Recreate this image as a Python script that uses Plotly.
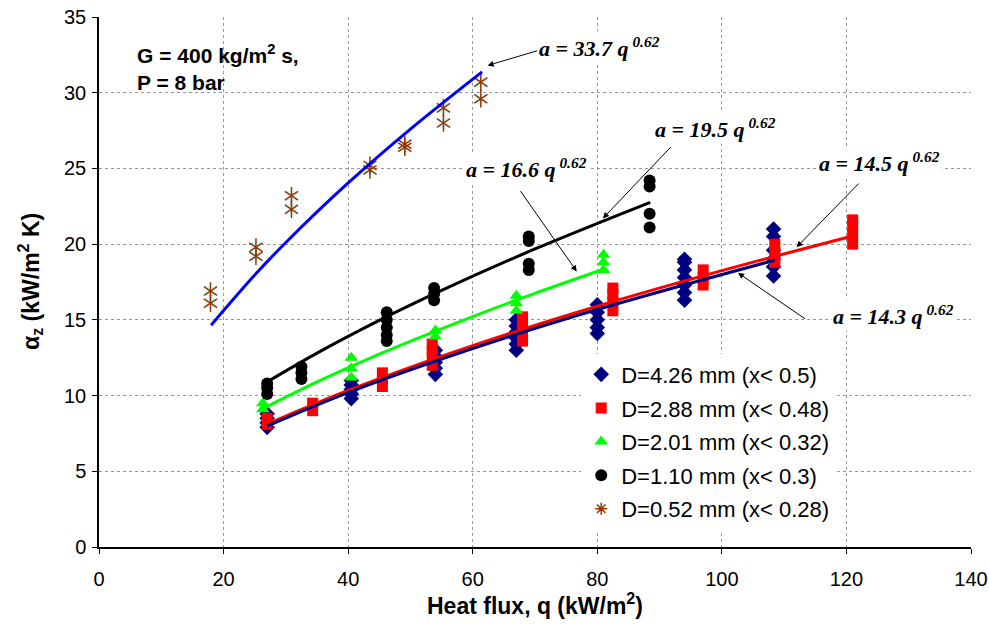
import plotly.graph_objects as go

# ---------------- data ----------------
# D = 4.26 mm (x < 0.5)
q_426 = [27]*4 + [40.5]*5 + [54]*5 + [67]*6 + [80]*5 + [94]*7 + [108.3]*6
a_426 = [7.9, 8.2, 8.5, 8.8,
         9.8, 10.1, 10.4, 10.7, 11.0,
         11.4, 11.8, 12.2, 12.6, 13.0,
         13.0, 13.4, 13.8, 14.2, 14.6, 15.0,
         14.1, 14.5, 15.0, 15.5, 16.0,
         16.3, 16.8, 17.3, 17.8, 18.3, 18.8, 19.0,
         17.9, 18.5, 19.0, 19.6, 20.5, 21.0]
# D = 2.88 mm (x < 0.48)
q_288 = [27]*2 + [34.3]*2 + [45.5]*3 + [53.5]*4 + [68]*4 + [82.5]*4 + [97]*3 + [108.5]*3 + [121]*4
a_288 = [8.1, 8.5,
         9.0, 9.5,
         10.6, 11.1, 11.5,
         12.0, 12.5, 13.0, 13.4,
         13.6, 14.2, 14.8, 15.2,
         15.6, 16.2, 16.7, 17.1,
         17.3, 17.8, 18.3,
         18.8, 19.4, 20.0,
         20.0, 20.6, 21.2, 21.6]
# D = 2.01 mm (x < 0.32)
q_201 = [26.3]*2 + [40.5]*3 + [54]*2 + [67]*3 + [81]*3
a_201 = [9.1, 9.5,
         11.2, 11.8, 12.5,
         13.9, 14.3,
         15.6, 16.1, 16.6,
         18.3, 18.8, 19.3]
# D = 1.10 mm (x < 0.3)
q_110 = [27]*3 + [32.5]*3 + [46.2]*5 + [53.8]*3 + [69]*4 + [88.4]*4
a_110 = [10.1, 10.5, 10.8,
         11.1, 11.5, 11.9,
         13.6, 14.0, 14.5, 15.0, 15.5,
         16.3, 16.7, 17.1,
         18.3, 18.7, 20.2, 20.5,
         21.1, 22.0, 23.8, 24.2]
# D = 0.52 mm (x < 0.28)
q_052 = [17.9, 17.9, 25.2, 25.2, 30.9, 30.9, 43.5, 43.5, 49.1, 49.1, 55.3, 55.3, 61.3, 61.3]
a_052 = [16.9, 16.1, 19.8, 19.2, 23.2, 22.3, 25.2, 24.9, 26.6, 26.4, 29.0, 28.0, 30.7, 29.6]

# fitted curves a = C q^0.62
fit_blue_q = [18, 25, 30, 40, 50, 61.5]
fit_blue_a = [14.65, 17.96, 20.11, 24.04, 27.60, 31.38]
fit_black_q = [27, 35, 45, 55, 70, 88.5]
fit_black_a = [10.90, 12.80, 14.96, 16.94, 19.68, 22.76]
fit_green_q = [26.5, 35, 45, 60, 70, 81]
fit_green_a = [9.17, 10.90, 12.74, 15.22, 16.75, 18.34]
fit_red_q = [27, 40, 60, 80, 100, 121]
fit_red_a = [8.11, 10.34, 13.30, 15.90, 18.25, 20.54]
fit_navy_q = [27, 40, 60, 80, 108.5]
fit_navy_a = [7.99, 10.20, 13.11, 15.68, 18.94]

# equation labels: text, text position (q, a), arrow tail (q, a), arrow head (q, a)
eq_text = ["33.7", "19.5", "16.6", "14.5", "14.3"]
eq_pos_q = [80.4, 98.9, 68.7, 125.3, 127.5]
eq_pos_a = [33.0, 27.7, 25.0, 25.4, 15.3]
eq_tail_q = [70.6, 92.0, 67.5, 122.2, 113.6]
eq_tail_a = [32.8, 26.5, 23.6, 24.1, 15.0]
eq_head_q = [62.4, 80.9, 76.7, 112.0, 102.6]
eq_head_a = [31.8, 21.7, 18.2, 19.8, 18.1]

x_ticks = [0, 20, 40, 60, 80, 100, 120, 140]
y_ticks = [0, 5, 10, 15, 20, 25, 30, 35]

# ---------------- figure ----------------
fig = go.Figure()

def curve(q, a, color):
    fig.add_trace(go.Scatter(x=q, y=a, mode="lines", line=dict(color=color, width=3, shape="spline"),
                             showlegend=False, hoverinfo="skip"))

# markers
fig.add_trace(go.Scatter(x=q_426, y=a_426, mode="markers", name="D=4.26 mm (x< 0.5)", legendgroup="g1",
                         marker=dict(symbol="diamond", size=12, color="#000080")))
fig.add_trace(go.Scatter(x=q_288, y=a_288, mode="markers", name="D=2.88 mm (x< 0.48)", legendgroup="g2",
                         marker=dict(symbol="square", size=11, color="#FF0000")))
fig.add_trace(go.Scatter(x=q_201, y=a_201, mode="markers", name="D=2.01 mm (x< 0.32)", legendgroup="g3",
                         marker=dict(symbol="triangle-up", size=12, color="#00FF00")))
fig.add_trace(go.Scatter(x=q_110, y=a_110, mode="markers", name="D=1.10 mm (x< 0.3)", legendgroup="g4",
                         marker=dict(symbol="circle", size=12, color="#000000")))
# 0.52 mm: cyan square background + six-armed asterisk
fig.add_trace(go.Scatter(x=q_052, y=a_052, mode="markers", legendgroup="g5", showlegend=False,
                         marker=dict(symbol="square", size=10, color="#CCFFFF")))
fig.add_trace(go.Scatter(x=q_052, y=a_052, mode="markers", legendgroup="g5", showlegend=False,
                         marker=dict(symbol="y-down-open", size=11, color="#993300",
                                     line=dict(color="#993300", width=1.5))))
fig.add_trace(go.Scatter(x=q_052, y=a_052, mode="markers", legendgroup="g5", showlegend=False,
                         marker=dict(symbol="y-up-open", size=11, color="#993300",
                                     line=dict(color="#993300", width=1.5))))
# legend entry for the 0.52 mm series
fig.add_trace(go.Scatter(x=[None], y=[None], mode="markers", name="D=0.52 mm (x< 0.28)", legendgroup="g5",
                         marker=dict(symbol="asterisk-open", size=10, color="#993300",
                                     line=dict(color="#993300", width=1.5))))

# fitted curves
curve(fit_blue_q, fit_blue_a, "#0000FF")
curve(fit_black_q, fit_black_a, "#000000")
curve(fit_green_q, fit_green_a, "#00FF00")
curve(fit_red_q, fit_red_a, "#FF0000")
curve(fit_navy_q, fit_navy_a, "#000080")

annotations = []
for t, px, py, tx, ty, hx, hy in zip(eq_text, eq_pos_q, eq_pos_a, eq_tail_q, eq_tail_a, eq_head_q, eq_head_a):
    annotations.append(dict(x=hx, y=hy, ax=tx, ay=ty, xref="x", yref="y", axref="x", ayref="y",
                            text="", showarrow=True, arrowhead=2, arrowsize=1.2, arrowwidth=1,
                            arrowcolor="black"))
    annotations.append(dict(x=px, y=py, xref="x", yref="y", showarrow=False,
                            text="<b><i>a = " + t + " q</i></b><sup><b><i> 0.62</i></b></sup>",
                            font=dict(family="Liberation Serif, Times New Roman, serif", size=22, color="black"),
                            bgcolor="white"))

annotations.append(dict(x=0.041, y=0.958, xref="paper", yref="paper", xanchor="left", yanchor="top",
                        showarrow=False, align="left",
                        text="<b>G = 400 kg/m<sup>2</sup> s,<br>P = 8 bar</b>",
                        font=dict(family="Liberation Sans, Arial, sans-serif", size=21, color="black")))

# axis titles
annotations.append(dict(x=0.5, y=0, xref="paper", yref="paper", xanchor="center", yanchor="middle",
                        yshift=-57, showarrow=False,
                        text="<b>Heat flux, q (kW/m<sup>2</sup>)</b>",
                        font=dict(family="Liberation Sans, Arial, sans-serif", size=23, color="black")))
annotations.append(dict(x=0, y=0.5, xref="paper", yref="paper", xanchor="center", yanchor="middle",
                        xshift=-69, showarrow=False, textangle=-90,
                        text="<b>α<sub>z</sub> (kW/m<sup>2</sup> K)</b>",
                        font=dict(family="Liberation Sans, Arial, sans-serif", size=23, color="black")))

fig.update_layout(
    width=989, height=627,
    margin=dict(l=99, r=18, t=17, b=80, autoexpand=False),
    paper_bgcolor="white", plot_bgcolor="white",
    font=dict(family="Liberation Sans, Arial, sans-serif", size=20, color="black"),
    annotations=annotations,
    legend=dict(x=0.553, y=0.365, xanchor="left", yanchor="top", bgcolor="white",
                font=dict(size=22), tracegroupgap=2, traceorder="grouped", itemwidth=30),
    xaxis=dict(range=[0, 140], tickvals=x_ticks, showgrid=True, gridcolor="#999999", griddash="dot",
               gridwidth=1, showline=True, linecolor="black", linewidth=1.5, ticks="outside", ticklen=5,
               tickcolor="black", zeroline=False, automargin=False, ticklabelstandoff=8,
               tickfont=dict(size=20)),
    yaxis=dict(range=[0, 35], tickvals=y_ticks, showgrid=True, gridcolor="#999999", griddash="dot",
               gridwidth=1, showline=True, linecolor="black", linewidth=1.5, ticks="outside", ticklen=5,
               tickcolor="black", zeroline=False, automargin=False, ticklabelstandoff=2,
               tickfont=dict(size=20)),
)

fig.write_html("out.html")
